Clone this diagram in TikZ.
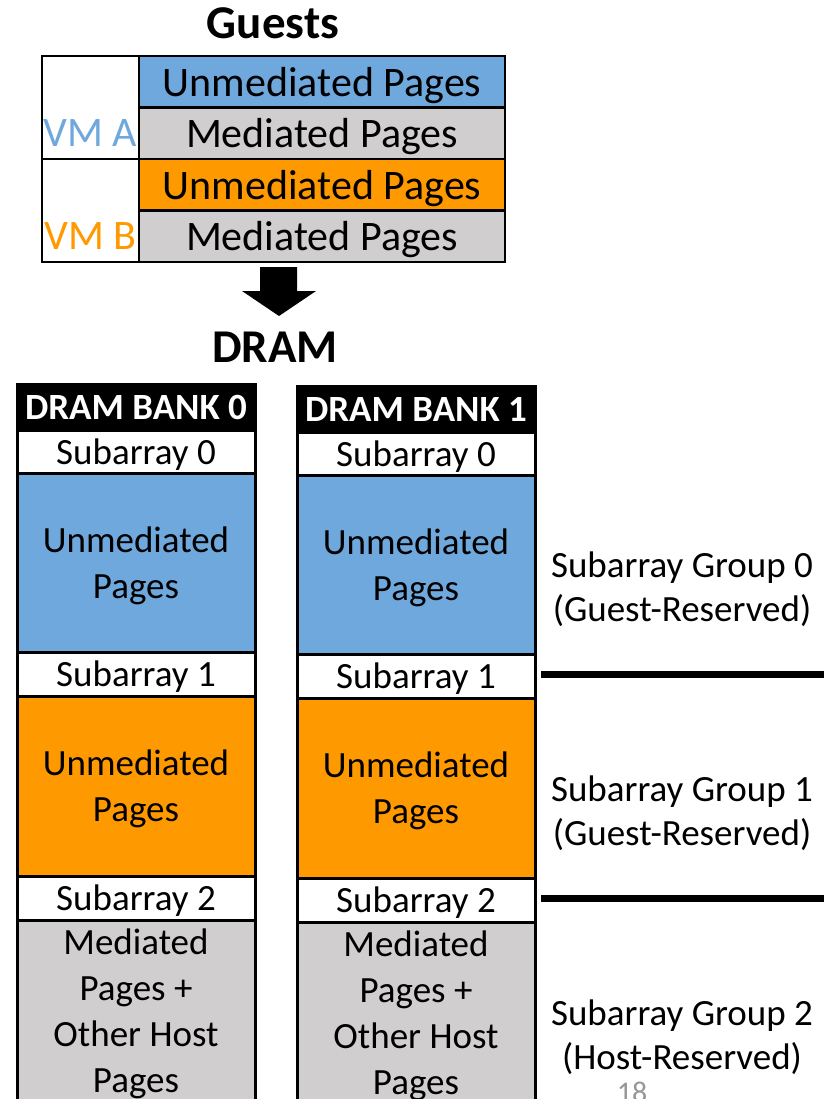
\documentclass[tikz,border=0pt]{standalone}
\usepackage{fontspec}
\setmainfont{Carlito}
\definecolor{pgblue}{RGB}{111,168,220}
\definecolor{pgorange}{RGB}{255,153,0}
\definecolor{pggray}{RGB}{208,206,206}
\definecolor{pagenum}{RGB}{150,150,150}

\begin{document}
\begin{tikzpicture}[x=1pt,y=-1pt,
  bankcell/.style={draw=black, line width=3pt, minimum width=238pt, inner sep=0pt,
    align=center, text depth=0pt, font=\fontsize{37}{46}\selectfont},
  guestcell/.style={draw=black, line width=2.5pt, inner sep=0pt, align=center,
    text depth=0pt, font=\fontsize{42}{50}\selectfont},
  title/.style={font=\fontsize{47}{56}\selectfont\bfseries, anchor=base, inner sep=0pt},
  vmlabel/.style={font=\fontsize{42}{50}\selectfont, anchor=base east, inner sep=0pt},
  grouplabel/.style={align=center, font=\fontsize{37}{44}\selectfont, inner sep=0pt},
  divider/.style={line width=7pt}]
\useasboundingbox (0,0) rectangle (824,1099);
\clip (0,0) rectangle (824,1099);

% ---- guest page table ----
\node[title] (guests) at (273,39) {Guests};
\node[guestcell, minimum width=97pt, minimum height=103pt] (vma) at (90.5,107.5) {};
\node[guestcell, minimum width=97pt, minimum height=103pt] (vmb) at (90.5,210.5) {};
\node[vmlabel, text=pgblue] (vmatext) at (137,147) {VM A};
\node[vmlabel, text=pgorange] (vmbtext) at (137,249) {VM B};
\node[guestcell, fill=pgblue, minimum width=366pt, minimum height=51.5pt] (ga-un) at (322,81.75) {Unmediated Pages};
\node[guestcell, fill=pggray, minimum width=366pt, minimum height=51.5pt] (ga-me) at (322,133.25) {Mediated Pages};
\node[guestcell, fill=pgorange, minimum width=366pt, minimum height=51.5pt] (gb-un) at (322,184.75) {Unmediated Pages};
\node[guestcell, fill=pggray, minimum width=366pt, minimum height=51.5pt] (gb-me) at (322,236.25) {Mediated Pages};

% ---- block arrow down to DRAM ----
\fill (260,267) -- (297,267) -- (297,291) -- (316,291) -- (279,316) -- (242,291) -- (260,291) -- cycle;
\node[title] (dram) at (275,362) {DRAM};

% ---- the two DRAM banks ----
\foreach \b/\x/\dy in {0/136/0, 1/416/2}{
  \node[bankcell, fill=black, text=white, font=\fontsize{37}{46}\selectfont\bfseries,
        minimum height=46pt] (b\b-head) at (\x,{407+\dy}) {DRAM BANK \b};
  \node[bankcell, fill=white, minimum height=43pt] (b\b-s0) at (\x,{451.5+\dy}) {Subarray 0};
  \node[bankcell, fill=pgblue, minimum height=179pt] (b\b-u0) at (\x,{562.5+\dy}) {Unmediated\\Pages};
  \node[bankcell, fill=white, minimum height=44pt] (b\b-s1) at (\x,{674+\dy}) {Subarray 1};
  \node[bankcell, fill=pgorange, minimum height=180pt] (b\b-u1) at (\x,{786+\dy}) {Unmediated\\Pages};
  \node[bankcell, fill=white, minimum height=44pt] (b\b-s2) at (\x,{898+\dy}) {Subarray 2};
  \node[bankcell, fill=pggray, minimum height=182pt] (b\b-host) at (\x,{1011+\dy}) {Mediated\\Pages +\\Other Host\\Pages};
}

% ---- subarray group labels and separators ----
\node[grouplabel] (grp0) at (682,589) {Subarray Group 0\\(Guest-Reserved)};
\node[grouplabel] (grp1) at (682,813) {Subarray Group 1\\(Guest-Reserved)};
\node[grouplabel] (grp2) at (682,1037) {Subarray Group 2\\(Host-Reserved)};
\coordinate (sep0a) at (541,674.5);
\coordinate (sep0b) at (824,674.5);
\coordinate (sep1a) at (541,898.5);
\coordinate (sep1b) at (824,898.5);
\draw[divider] (sep0a) -- (sep0b);
\draw[divider] (sep1a) -- (sep1b);

% ---- slide number ----
\node[font=\fontsize{30}{36}\selectfont, text=pagenum, anchor=base, inner sep=0pt] (pageno) at (632,1102) {18};
\end{tikzpicture}
\end{document}
